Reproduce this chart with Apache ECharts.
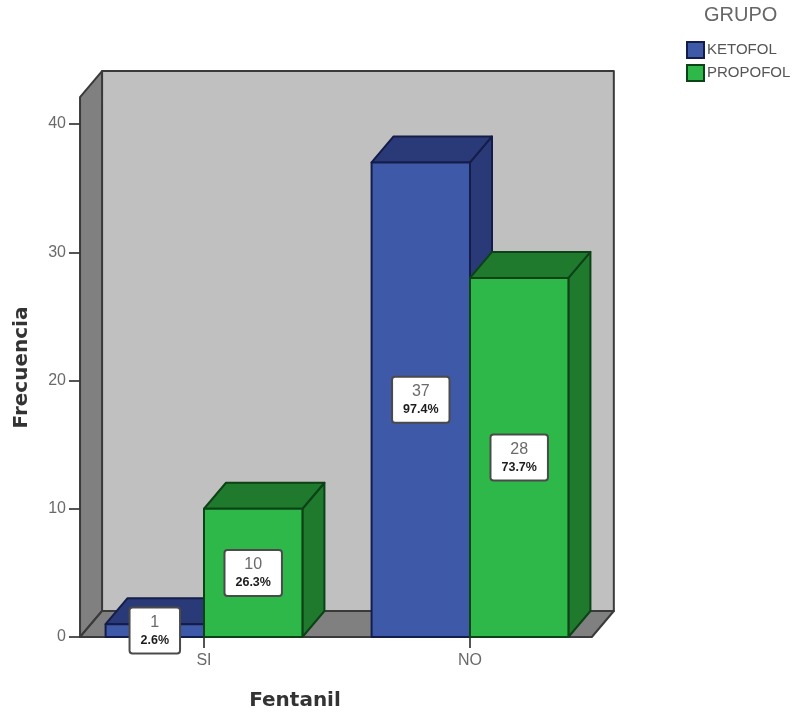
<!DOCTYPE html>
<html>
<head>
<meta charset="utf-8">
<style>html,body{margin:0;padding:0;background:#fff}#c{width:797px;height:713px}</style>
<script src="https://cdn.jsdelivr.net/npm/echarts@6/dist/echarts.min.js"></script>
</head>
<body>
<div id="c"></div>
<script>
// Fentanil use by group: counts and within-group percentages
const categories = ['SI', 'NO'];
const ketofol = [1, 37];
const propofol = [10, 28];
const ketofolPct = ['2.6%', '97.4%'];
const propofolPct = ['26.3%', '73.7%'];
const yTop = 40;
const yStep = 10;

// Pseudo-3D box styling
const DEPTH_X = 22, DEPTH_Y = 26;
const WALL_TOP = 42.1;
const BAR_FRACTION = 0.37;
const FLOOR_LEFT = -0.466, FLOOR_RIGHT = 1.458;
const font = '"Liberation Sans", Arial, sans-serif';
const titleFont = '"DejaVu Sans", sans-serif';

const palette = {
  KETOFOL: { front: '#3f59a9', shade: '#2a3a78', edge: '#141d4a' },
  PROPOFOL: { front: '#2fb84a', shade: '#1f7a2e', edge: '#0c4216' }
};

// Back wall, side wall and floor of the plot box
function renderBox(params, api) {
  const band = api.size([1, 0])[0];
  const x0 = api.coord([0, 0])[0] + FLOOR_LEFT * band;
  const x1 = api.coord([0, 0])[0] + FLOOR_RIGHT * band;
  const yB = api.coord([0, 0])[1];
  const yT = api.coord([0, WALL_TOP])[1];
  const edge = { stroke: '#3a3a3a', lineWidth: 2, lineJoin: 'round' };
  const poly = (points, fill) => ({
    type: 'polygon', shape: { points }, style: Object.assign({ fill }, edge)
  });
  return {
    type: 'group',
    children: [
      poly([[x0 + DEPTH_X, yT - DEPTH_Y], [x1 + DEPTH_X, yT - DEPTH_Y], [x1 + DEPTH_X, yB - DEPTH_Y], [x0 + DEPTH_X, yB - DEPTH_Y]], '#c0c0c0'),
      poly([[x0, yT], [x0 + DEPTH_X, yT - DEPTH_Y], [x0 + DEPTH_X, yB - DEPTH_Y], [x0, yB]], '#808080'),
      poly([[x0, yB], [x1, yB], [x1 + DEPTH_X, yB - DEPTH_Y], [x0 + DEPTH_X, yB - DEPTH_Y]], '#808080')
    ]
  };
}

// One 3D bar: front, top and side faces, plus its count and percentage box
function barRenderer(name, side) {
  const c = palette[name];
  return function (params, api) {
    const center = api.coord([api.value(0), 0]);
    const top = api.coord([api.value(0), api.value(1)]);
    const w = api.size([1, 0])[0] * BAR_FRACTION;
    const l = side < 0 ? center[0] - w : center[0];
    const r = l + w;
    const yB = center[1], yT = top[1];
    const edge = { stroke: c.edge, lineWidth: 2, lineJoin: 'round' };
    const poly = (points, fill) => ({
      type: 'polygon', shape: { points }, style: Object.assign({ fill }, edge)
    });
    return {
      type: 'group',
      children: [
        poly([[r, yT], [r + DEPTH_X, yT - DEPTH_Y], [r + DEPTH_X, yB - DEPTH_Y], [r, yB]], c.shade),
        poly([[l, yT], [l + DEPTH_X, yT - DEPTH_Y], [r + DEPTH_X, yT - DEPTH_Y], [r, yT]], c.shade),
        poly([[l, yT], [r, yT], [r, yB], [l, yB]], c.front),
        {
          type: 'text',
          z2: 10,
          style: {
            x: (l + r) / 2,
            y: (yT + yB) / 2,
            align: 'center',
            verticalAlign: 'middle',
            text: '{n|' + api.value(1) + '}\n{p|' + api.value(2) + '}',
            rich: {
              n: { fontFamily: font, fontSize: 16, lineHeight: 20, fill: '#6a6a6a', align: 'center' },
              p: { fontFamily: font, fontSize: 12.5, fontWeight: 'bold', lineHeight: 16, fill: '#1c1c1c', align: 'center' }
            },
            backgroundColor: '#ffffff',
            borderColor: '#4a4a4a',
            borderWidth: 2,
            borderRadius: 2,
            padding: [4, 10, 4, 10]
          }
        }
      ]
    };
  };
}

function barSeries(name, values, pct, side) {
  return {
    name,
    type: 'custom',
    coordinateSystem: 'cartesian2d',
    clip: false,
    encode: { x: 0, y: 1 },
    itemStyle: { color: palette[name].front, borderColor: palette[name].edge, borderWidth: 2 },
    renderItem: barRenderer(name, side),
    data: values.map((v, i) => [i, v, pct[i]]),
    z: 3
  };
}

const chart = echarts.init(document.getElementById('c'), null, { renderer: 'canvas' });
chart.setOption({
  animation: false,
  backgroundColor: '#ffffff',
  grid: { left: 71, width: 532, top: 124, bottom: 76, outerBoundsMode: 'none' },
  title: {
    text: 'GRUPO', left: 704, top: 5, padding: 0,
    textStyle: { fontFamily: font, fontSize: 20, fontWeight: 'normal', color: '#666666' }
  },
  legend: {
    data: ['KETOFOL', 'PROPOFOL'],
    orient: 'vertical',
    left: 686,
    top: 41,
    padding: 0,
    itemWidth: 17,
    itemHeight: 16,
    itemGap: 5,
    icon: 'rect',
    selectedMode: false,
    textStyle: { fontFamily: font, fontSize: 15, color: '#555555', padding: [0, 0, 0, -2] }
  },
  xAxis: {
    type: 'category',
    data: categories,
    axisLine: { show: false },
    axisTick: { show: true, alignWithLabel: true, length: 11, lineStyle: { color: '#555555', width: 2 } },
    axisLabel: { fontFamily: font, fontSize: 16, color: '#6a6a6a', margin: 16 },
    name: 'Fentanil',
    nameLocation: 'middle',
    nameGap: 54,
    nameTextStyle: { fontFamily: titleFont, fontSize: 20, fontWeight: 'bold', color: '#333333', padding: [0, 84, 0, 0] }
  },
  yAxis: {
    type: 'value',
    min: 0,
    max: yTop,
    interval: yStep,
    offset: -9,
    splitLine: { show: false },
    axisLine: { show: false },
    axisTick: { show: true, length: 11, lineStyle: { color: '#555555', width: 2 } },
    axisLabel: { fontFamily: font, fontSize: 16, color: '#6a6a6a', margin: 14 },
    name: 'Frecuencia',
    nameLocation: 'middle',
    nameGap: 48,
    nameTextStyle: { fontFamily: titleFont, fontSize: 20, fontWeight: 'bold', color: '#333333', padding: [0, 0, 0, 26] }
  },
  series: [
    {
      name: 'box',
      type: 'custom',
      coordinateSystem: 'cartesian2d',
      clip: false,
      silent: true,
      encode: { x: 0, y: 1 },
      renderItem: renderBox,
      data: [[0, 0]],
      z: 1
    },
    barSeries('KETOFOL', ketofol, ketofolPct, -1),
    barSeries('PROPOFOL', propofol, propofolPct, 1)
  ]
});
</script>
</body>
</html>
